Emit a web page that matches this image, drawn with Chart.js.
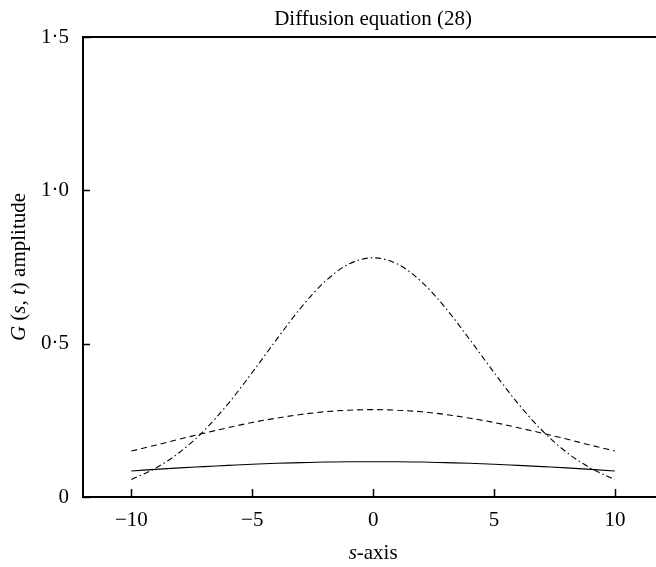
<!DOCTYPE html>
<html>
<head>
<meta charset="utf-8">
<script src="https://cdn.jsdelivr.net/npm/chart.js@4"></script>
<style>
  html, body { margin: 0; padding: 0; background: #fff; }
  #wrap { width: 656px; height: 567px; position: relative; }
</style>
</head>
<body>
<div id="wrap"><canvas id="chart"></canvas></div>
<script>
// s-waarden en de drie curves
const sWaarden   = [-10,-9,-8,-7,-6,-5,-4,-3,-2,-1,0,1,2,3,4,5,6,7,8,9,10];
const curveDoorgetrokken = [0.085,0.090,0.095,0.099,0.103,0.107,0.110,0.112,0.114,0.115,0.115,0.115,0.114,0.112,0.110,0.107,0.103,0.099,0.095,0.090,0.085];
const curveGestreept     = [0.150,0.169,0.189,0.208,0.226,0.243,0.257,0.269,0.278,0.283,0.285,0.283,0.278,0.269,0.257,0.243,0.226,0.208,0.189,0.169,0.150];
const curveStreepPunt    = [0.057,0.094,0.146,0.216,0.304,0.406,0.513,0.616,0.702,0.760,0.780,0.760,0.702,0.616,0.513,0.406,0.304,0.216,0.146,0.094,0.057];

const xTicks      = [-10, -5, 0, 5, 10];
const yTicks      = [0, 0.5, 1.0, 1.5];
const yTickLabels = ['0', '0·5', '1·0', '1·5'];

const titel    = 'Diffusion equation (28)';
const yTitel   = [['G', true], [' (', false], ['s', true], [', ', false], ['t', true], [') amplitude', false]];
const xTitel   = [['s', true], ['-axis', false]];

const FONT = 'Liberation Serif, Times New Roman, serif';
const FS = 21;

const punten = arr => arr.map((v, i) => ({ x: sWaarden[i], y: v }));

function tekenGemengd(ctx, delen, size) {
  // Breedte meten, dan gecentreerd tekenen rond (0,0).
  let totaal = 0;
  const maten = delen.map(([t, it]) => {
    ctx.font = (it ? 'italic ' : '') + size + 'px ' + FONT;
    const w = ctx.measureText(t).width; totaal += w; return w;
  });
  let x = -totaal / 2;
  delen.forEach(([t, it], i) => {
    ctx.font = (it ? 'italic ' : '') + size + 'px ' + FONT;
    ctx.fillText(t, x, 0);
    x += maten[i];
  });
}

const kaderPlugin = {
  id: 'kader',
  afterDraw(c) {
    const ctx = c.ctx, a = c.chartArea;
    const xs = c.scales.x, ys = c.scales.y;
    ctx.save();
    ctx.strokeStyle = '#000';
    // Bovenrand
    ctx.lineWidth = 2;
    ctx.beginPath();
    ctx.moveTo(a.left - 1, a.top);
    ctx.lineTo(a.right, a.top);
    ctx.stroke();
    // Tick-streepjes naar binnen
    ctx.lineWidth = 1.5;
    ctx.beginPath();
    xTicks.forEach(v => {
      const px = Math.round(xs.getPixelForValue(v)) + 0.5;
      ctx.moveTo(px, a.bottom);
      ctx.lineTo(px, a.bottom - 8);
    });
    yTicks.forEach(v => {
      const py = Math.round(ys.getPixelForValue(v)) + 0.5;
      ctx.moveTo(a.left, py);
      ctx.lineTo(a.left + 7, py);
    });
    ctx.stroke();

    ctx.fillStyle = '#000';
    ctx.textBaseline = 'middle';
    const midX = xs.getPixelForValue(0);
    // Titel
    ctx.font = FS + 'px ' + FONT;
    ctx.textAlign = 'center';
    ctx.fillText(titel, midX, 19);
    // x-as titel
    ctx.save();
    ctx.translate(midX, 553);
    ctx.textAlign = 'left';
    tekenGemengd(ctx, xTitel, FS);
    ctx.restore();
    // y-as titel
    ctx.save();
    ctx.translate(19, (a.top + a.bottom) / 2);
    ctx.rotate(-Math.PI / 2);
    ctx.textAlign = 'left';
    tekenGemengd(ctx, yTitel, FS);
    ctx.restore();
    ctx.restore();
  }
};

const lijn = (data, dash) => ({
  data: punten(data), borderColor: '#000', borderWidth: 1.1, borderDash: dash,
  pointRadius: 0, fill: false, cubicInterpolationMode: 'monotone'
});

new Chart(document.getElementById('chart'), {
  type: 'line',
  plugins: [kaderPlugin],
  data: {
    datasets: [
      lijn(curveDoorgetrokken, []),
      lijn(curveGestreept, [6, 4]),
      lijn(curveStreepPunt, [6, 3, 1.5, 3])
    ]
  },
  options: {
    responsive: true, maintainAspectRatio: false, animation: false,
    layout: { padding: { top: 37, left: 0, right: 0, bottom: 0 } },
    plugins: { legend: { display: false }, tooltip: { enabled: false }, title: { display: false } },
    scales: {
      x: {
        type: 'linear', min: -12, max: 11.7,
        afterBuildTicks: s => { s.ticks = xTicks.map(v => ({ value: v })); },
        afterFit: s => { s.height = 70; },
        ticks: { color: '#000', font: { family: FONT, size: FS }, padding: 11, maxRotation: 0,
                 callback: v => (v < 0 ? '\u2212' + Math.abs(v) : String(v)) },
        grid: { display: false, drawTicks: false },
        border: { display: true, color: '#000', width: 2 }
      },
      y: {
        min: 0, max: 1.5,
        afterBuildTicks: s => { s.ticks = yTicks.map(v => ({ value: v })); },
        afterFit: s => { s.width = 83; },
        ticks: { color: '#000', font: { family: FONT, size: FS }, padding: 14,
                 callback: v => yTickLabels[yTicks.indexOf(v)] },
        grid: { display: false, drawTicks: false },
        border: { display: true, color: '#000', width: 2 }
      }
    }
  }
});
</script>
</body>
</html>
